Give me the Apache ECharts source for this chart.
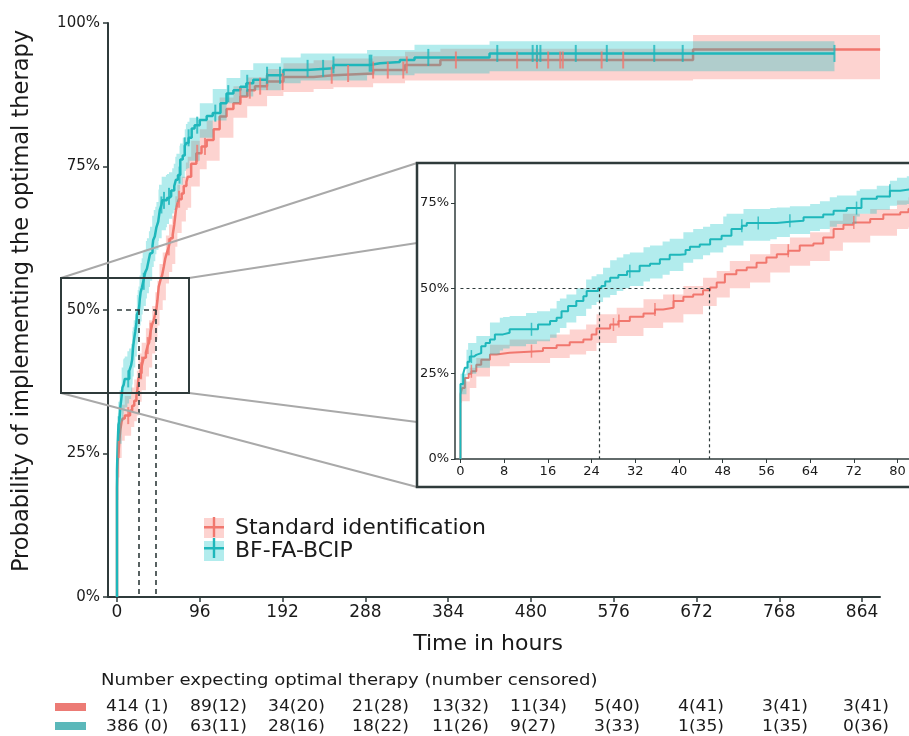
<!DOCTYPE html>
<html><head><meta charset="utf-8">
<script src="https://cdn.jsdelivr.net/npm/echarts@6/dist/echarts.min.js"></script>
<style>html,body{margin:0;padding:0;background:#fff}#c{width:909px;height:736px}</style>
</head><body><div id="c"></div>
<script>
// ---------- data (hours, cumulative probability) ----------
const stdName = 'Standard identification';
const bfName = 'BF-FA-BCIP';

const stdT = [0,0,0.3,0.8,1.5,2,2.9,3.8,5.4,6.6, 9,15.1,17.6,20,22.5,24,24.9,27.4,28.9,31, 33.5,35.6,37.1,39,40.8,42.6,44.4,45.7,46.9,48.4, 50.5,52.4,54.2,56,57.9,60,62.1,64.6,66.4,68.3, 70.1,71.9,75,77.4,80.5,82,86,92,98,104, 112,119,127,135,143,151,160,174,193,228, 251,297,334,375,668,885];
const stdP = [0,0.19,0.208,0.237,0.25,0.257,0.276,0.291,0.306,0.311, 0.316,0.325,0.333,0.342,0.35,0.365,0.382,0.394,0.404,0.417, 0.426,0.438,0.443,0.463,0.475,0.482,0.494,0.502,0.517,0.541, 0.553,0.561,0.575,0.59,0.60,0.61,0.625,0.631,0.649,0.674, 0.686,0.693,0.703,0.716,0.723,0.732,0.755,0.773,0.785,0.796, 0.815,0.837,0.85,0.86,0.872,0.883,0.89,0.898,0.906,0.909, 0.912,0.918,0.927,0.9355,0.954,0.954];

const bfT = [0,0,0.5,0.8,1.3,1.7,2.5,2.9,3.8,4.6,5.4,6.3,7.8,9, 14.2,16.4,17.6,18.5,19.7,21.2,22.5,23.1,25.2,25.8, 26.5,27.4,28.9,30.5,32.8,34.7,36.5,38.3,40.2,41.2, 42,43.8,45.7,47.8,49.6,51.5,52.4,57.9,60.3,62.8, 66.4,68.3,70.7,73.4,76.2,78.6,80.5,83,86.6,90, 96,104,111,120,127,135,143,150,158,174, 193,220,251,293,305,328,345,432,832];
const bfP = [0,0.22,0.25,0.267,0.285,0.30,0.305,0.31,0.33,0.34,0.35,0.365,0.37,0.38, 0.394,0.404,0.414,0.433,0.448,0.463,0.477,0.492,0.50,0.507, 0.52,0.531,0.539,0.55,0.566,0.572,0.585,0.598,0.60,0.612, 0.622,0.628,0.644,0.654,0.674,0.683,0.691,0.695,0.698,0.708, 0.716,0.727,0.735,0.762,0.769,0.786,0.791,0.80,0.816,0.822, 0.831,0.838,0.843,0.86,0.877,0.883,0.889,0.895,0.901,0.909, 0.918,0.921,0.927,0.93,0.932,0.9355,0.94,0.947,0.947];

// confidence bands
const stdBandT  = [0,0.3,1.7,2.9,5.4,9,12.7,16.4,20,23,24.9,28.6,33.5,37.1,40.8,44.4,46.9,49.3,53,56.7,60.3,64,67.6,70,75,79.9,82,86,96,104,119,135,151,174,193,228,251,297,334,375,668,885];
const stdBandLo = [0.165,0.169,0.208,0.242,0.272,0.281,0.281,0.296,0.306,0.316,0.34,0.36,0.384,0.40,0.424,0.448,0.473,0.50,0.517,0.546,0.566,0.58,0.61,0.634,0.654,0.674,0.678,0.715,0.745,0.76,0.80,0.835,0.855,0.873,0.88,0.885,0.888,0.895,0.90,0.90,0.902,0.902];
const stdBandHi = [0.215,0.227,0.267,0.296,0.335,0.35,0.35,0.365,0.379,0.394,0.424,0.443,0.468,0.482,0.507,0.531,0.551,0.58,0.60,0.63,0.649,0.664,0.698,0.718,0.732,0.757,0.767,0.795,0.815,0.83,0.87,0.89,0.905,0.92,0.93,0.935,0.938,0.942,0.95,0.955,0.979,0.979];

const bfBandT  = [0,1.1,1.4,2.9,5.4,7.2,7.8,9,12,14,16.4,17.6,18.2,19.4,21.2,23,24,24.9,26.1,27.4,28.6,29.8,31,33.5,34.7,37,38.3,40.8,42.6,44.4,45.7,48.1,48.7,51.8,56.7,57.9,60.3,64,65.8,67.6,68.9,72.5,73.1,76.2,78.6,79.9,81.7,84,96,111,127,143,158,190,213,290,345,432,832];
const bfBandLo = [0.19,0.247,0.25,0.267,0.306,0.318,0.324,0.33,0.337,0.345,0.355,0.37,0.384,0.40,0.419,0.44,0.451,0.46,0.473,0.48,0.492,0.50,0.507,0.52,0.529,0.54,0.551,0.575,0.585,0.597,0.605,0.62,0.625,0.639,0.644,0.65,0.659,0.668,0.674,0.68,0.688,0.71,0.718,0.73,0.742,0.745,0.747,0.76,0.80,0.83,0.86,0.872,0.883,0.895,0.90,0.909,0.912,0.916,0.916];
const bfBandHi = [0.25,0.32,0.34,0.36,0.40,0.414,0.416,0.419,0.428,0.433,0.441,0.463,0.47,0.482,0.50,0.526,0.535,0.541,0.56,0.582,0.59,0.60,0.605,0.62,0.625,0.637,0.645,0.664,0.674,0.68,0.688,0.71,0.718,0.732,0.735,0.737,0.74,0.747,0.755,0.767,0.772,0.786,0.79,0.80,0.815,0.824,0.828,0.835,0.86,0.885,0.904,0.918,0.93,0.94,0.947,0.953,0.962,0.968,0.968];

// censoring times
const stdCensor = [2,13,28,29,35.6,39,60,72,93,102,143,154,166,174,192,249,268,297,314,332,336,393,464,487,500,514,517,562,587];
const bfCensor  = [2,13,31,51.5,54.5,60.3,72.5,78.6,83,93,114,129,151,174,189,221,239,251,293,295,361,441,482,487,491,532,568,623,656,832];

// medians [BF-FA-BCIP, Standard]
const medianTimes = [25.4, 45.5];

// ticks
const xTicksMain = [0,96,192,288,384,480,576,672,768,864];
const yTicksMain = [0,0.25,0.5,0.75,1];
const xTicksInset = [0,8,16,24,32,40,48,56,64,72,80];
const yTicksInset = [0,0.25,0.5,0.75];

// risk table
const riskHeader = 'Number expecting optimal therapy (number censored)';
const riskStd = ['414 (1)','89(12)','34(20)','21(28)','13(32)','11(34)','5(40)','4(41)','3(41)','3(41)'];
const riskBf  = ['386 (0)','63(11)','28(16)','18(22)','11(26)','9(27)','3(33)','1(35)','1(35)','0(36)'];

// ---------- layout / style ----------
const riskColX = [106,190,268,352,432,510,594,678,762,843];
const F = '"DejaVu Sans", Verdana, sans-serif';
const TXT = '#1a1a1a';
const AX = '#2f3b3b';
const C_RED = '#F1776E', C_TEAL = '#1EB7BB';
const BAND_RED = 'rgba(248,118,109,0.32)', BAND_TEAL = 'rgba(0,191,196,0.3)';
const MAIN_X = [-10.44, 884.8];
const INSET_X = [-1, 82.1];

function stepAt(T,P,t){let v=P[0];for(let i=0;i<T.length;i++){if(T[i]<=t)v=P[i];else break;}return v;}
function pairs(T,V){return T.map((t,i)=>[t,V[i]]);}

function bandSeries(gi,name,BT,BLo,BHi,color,z,xMax){
  return {name,type:'custom',xAxisIndex:gi,yAxisIndex:gi,z,silent:true,
    data:[[BT[0],BLo[0]]],
    renderItem:(params,api)=>{
      const up=[], lo=[], n=BT.length;
      for(let i=0;i<n;i++){
        const t0=BT[i]; if(t0>=xMax) break;
        const t1=Math.min(i<n-1?BT[i+1]:BT[i], xMax);
        up.push(api.coord([t0,BHi[i]]), api.coord([t1,BHi[i]]));
        lo.push(api.coord([t0,BLo[i]]), api.coord([t1,BLo[i]]));
      }
      return {type:'polygon',shape:{points:up.concat(lo.reverse())},style:{fill:color}};
    }};
}

function groupSeries(gi,name,T,P,BT,BLo,BHi,cens,color,band,zBase,lw,tick,xMax){
  return [
    bandSeries(gi,name,BT,BLo,BHi,band,zBase,xMax),
    {name,type:'line',xAxisIndex:gi,yAxisIndex:gi,step:'end',symbol:'none',showSymbol:false,
     data:pairs(T,P),lineStyle:{color,width:lw},z:zBase+1,silent:true},
    {name,type:'scatter',xAxisIndex:gi,yAxisIndex:gi,symbol:'rect',symbolSize:tick,
     data:cens.filter(t=>t<=xMax).map(t=>[t,stepAt(T,P,t)]),itemStyle:{color},z:8,silent:true}
  ];
}

function medianLines(gi,style){
  const a=medianTimes[0], b=medianTimes[1];
  return {type:'line',xAxisIndex:gi,yAxisIndex:gi,data:[],z:9,silent:true,
    markLine:{silent:true,symbol:['none','none'],label:{show:false},lineStyle:style,animation:false,
      data:[
        [{coord:[0,0.5]},{coord:[b,0.5]}],
        [{coord:[a,0.5]},{coord:[a,0]}],
        [{coord:[b,0.5]},{coord:[b,0]}]
      ]}};
}

const pct = v => Math.round(v*100)+'%';

const series = [].concat(
  groupSeries(0,stdName,stdT,stdP,stdBandT,stdBandLo,stdBandHi,stdCensor,C_RED,BAND_RED,1,2.5,[2,17],MAIN_X[1]),
  groupSeries(0,bfName,bfT,bfP,bfBandT,bfBandLo,bfBandHi,bfCensor,C_TEAL,BAND_TEAL,3,2.5,[2,17],MAIN_X[1]),
  [medianLines(0,{color:AX,width:1.6,type:[5,4]})],
  groupSeries(1,stdName,stdT,stdP,stdBandT,stdBandLo,stdBandHi,stdCensor,C_RED,BAND_RED,1,2,[1.5,13],INSET_X[1]),
  groupSeries(1,bfName,bfT,bfP,bfBandT,bfBandLo,bfBandHi,bfCensor,C_TEAL,BAND_TEAL,3,2,[1.5,13],INSET_X[1]),
  [medianLines(1,{color:AX,width:1.2,type:[3,3]})]
);

const graphicEls = [
  {type:'line',shape:{x1:61,y1:278,x2:417,y2:163},style:{stroke:'#a9a9a9',lineWidth:2},z:99},
  {type:'line',shape:{x1:189,y1:278,x2:417,y2:243},style:{stroke:'#a9a9a9',lineWidth:2},z:99},
  {type:'line',shape:{x1:189,y1:393,x2:417,y2:422},style:{stroke:'#a9a9a9',lineWidth:2},z:99},
  {type:'line',shape:{x1:61,y1:393,x2:417,y2:487},style:{stroke:'#a9a9a9',lineWidth:2},z:99},
  {type:'rect',shape:{x:61,y:278,width:128,height:115},style:{fill:'none',stroke:AX,lineWidth:2},z:100},
  {type:'rect',shape:{x:417,y:163,width:500,height:324},style:{fill:'none',stroke:AX,lineWidth:2.5},z:100},
  {type:'text',x:101,y:681,scaleX:1.13,style:{text:riskHeader,fontSize:16,fontFamily:F,fill:TXT,verticalAlign:'middle'},z:100},
  {type:'rect',shape:{x:55,y:703,width:31,height:8},style:{fill:'#EC7B75'},z:100},
  {type:'rect',shape:{x:55,y:722,width:31,height:8},style:{fill:'#5BB8BA'},z:100}
];
riskStd.forEach((s,i)=>graphicEls.push({type:'text',x:riskColX[i],y:707,scaleX:1.07,style:{text:s,fontSize:16,fontFamily:F,fill:TXT,verticalAlign:'middle'},z:100}));
riskBf.forEach((s,i)=>graphicEls.push({type:'text',x:riskColX[i],y:727,scaleX:1.07,style:{text:s,fontSize:16,fontFamily:F,fill:TXT,verticalAlign:'middle'},z:100}));

const crossIcon = 'path://M0,9L20,9L20,11.5L0,11.5Z M8.8,0L11.2,0L11.2,20L8.8,20Z';

const option = {
  animation:false,
  backgroundColor:'#fff',
  grid:[
    {left:108,top:23,width:772,height:574},
    {left:455,top:163,right:0,height:296}
  ],
  xAxis:[
    {gridIndex:0,type:'value',min:MAIN_X[0],max:MAIN_X[1],
     axisLine:{show:true,onZero:false,lineStyle:{color:AX,width:2}},
     axisTick:{show:true,customValues:xTicksMain,length:5,lineStyle:{color:AX,width:1.5}},
     axisLabel:{customValues:xTicksMain,fontSize:17,fontFamily:F,color:TXT,margin:7},
     splitLine:{show:false},
     name:'Time in hours',nameLocation:'middle',nameGap:36,
     nameTextStyle:{fontSize:22,fontFamily:F,color:TXT,padding:[0,12,0,0]}},
    {gridIndex:1,type:'value',min:INSET_X[0],max:INSET_X[1],
     axisLine:{show:true,onZero:false,lineStyle:{color:AX,width:1.5}},
     axisTick:{show:true,customValues:xTicksInset,length:4,lineStyle:{color:AX,width:1}},
     axisLabel:{customValues:xTicksInset,fontSize:13,fontFamily:F,color:TXT,margin:6},
     splitLine:{show:false}}
  ],
  yAxis:[
    {gridIndex:0,type:'value',min:0,max:1,interval:0.25,
     axisLine:{show:true,onZero:false,lineStyle:{color:AX,width:2}},
     axisTick:{show:true,length:5,lineStyle:{color:AX,width:1.5}},
     axisLabel:{customValues:yTicksMain,formatter:pct,fontSize:15,fontFamily:F,color:TXT,margin:8},
     splitLine:{show:false},
     name:'Probability of implementing the optimal therapy',nameLocation:'middle',nameGap:74,
     nameTextStyle:{fontSize:22.5,fontFamily:F,color:TXT,padding:[0,0,0,18]}},
    {gridIndex:1,type:'value',min:0,max:0.867,
     axisLine:{show:true,onZero:false,lineStyle:{color:AX,width:1.5}},
     axisTick:{show:true,customValues:yTicksInset,length:4,lineStyle:{color:AX,width:1}},
     axisLabel:{customValues:yTicksInset,formatter:pct,fontSize:13,fontFamily:F,color:TXT,margin:6},
     splitLine:{show:false}}
  ],
  legend:[
    {left:204,top:517,padding:0,orient:'vertical',itemWidth:20,itemHeight:20,itemGap:1,selectedMode:false,
     data:[{name:stdName,icon:'rect',itemStyle:{color:BAND_RED}},{name:bfName,icon:'rect',itemStyle:{color:BAND_TEAL}}],
     textStyle:{fontSize:22,fontFamily:F,color:TXT,lineHeight:20,padding:[0,0,0,6]}},
    {left:204,top:517,padding:0,orient:'vertical',itemWidth:20,itemHeight:20,itemGap:1,selectedMode:false,
     formatter:()=>'',
     data:[{name:stdName,icon:crossIcon,itemStyle:{color:C_RED}},
           {name:bfName,icon:crossIcon,itemStyle:{color:C_TEAL}}],
     textStyle:{fontSize:22,lineHeight:20}}
  ],
  series,
  graphic:{elements:graphicEls}
};

const chart = echarts.init(document.getElementById('c'),null,{renderer:'canvas'});
chart.setOption(option);
</script>
</body></html>
